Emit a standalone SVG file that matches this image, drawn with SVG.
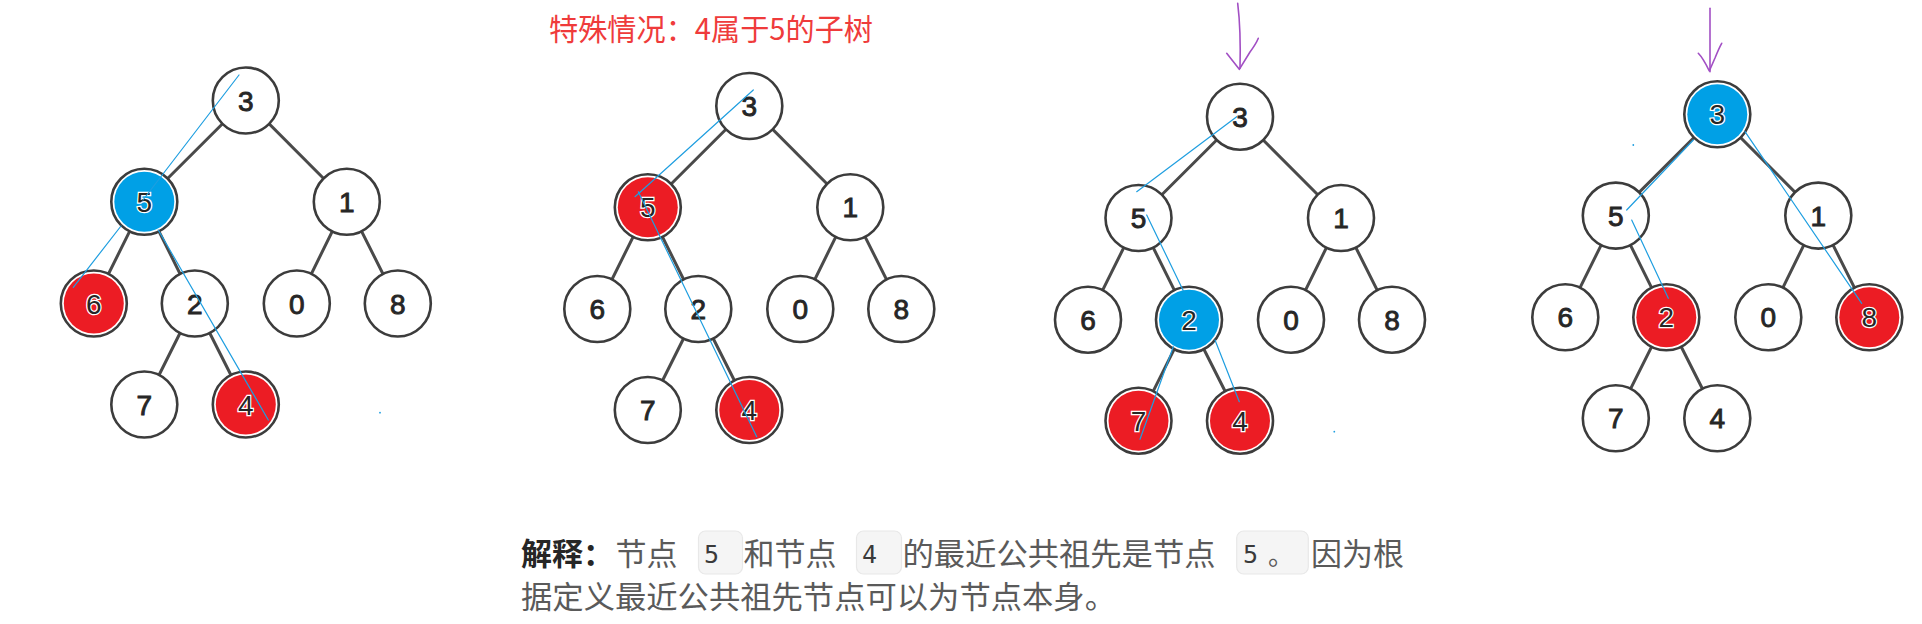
<svg xmlns="http://www.w3.org/2000/svg" width="1922" height="624" viewBox="0 0 1922 624">
<style>
.edge{stroke:#4a4a4a;stroke-width:3;stroke-linecap:round}
.nc{fill:#fff;stroke:#3c3c3c;stroke-width:2.6}
.red{fill:#ec1c24}
.blue{fill:#00a0e6}
.lbl{font-family:"Liberation Sans",Arial,sans-serif;font-size:28px;fill:#262626;stroke:#262626;stroke-width:0.9;text-anchor:middle}
.hl .lbl{stroke:#fff;stroke-width:2.5;paint-order:stroke}
.anno{stroke:#1e9ee0;stroke-width:1.2;fill:none;stroke-linecap:round}
.arrow{stroke:#a24fc4;stroke-width:1.6;fill:none;stroke-linecap:round;stroke-linejoin:round}
.title{font-family:"Noto Sans CJK SC","Noto Sans",sans-serif;font-size:30px;fill:#ef3b3b}
.txt{font-family:"Noto Sans CJK SC","Noto Sans",sans-serif;font-size:31px;fill:#5a5a5a}
.bold{font-weight:bold;fill:#262626}
.code{fill:#f5f5f5;stroke:#e8e8e8;stroke-width:1.2}
.ctxt{font-family:"DejaVu Sans Mono","Liberation Mono",monospace;font-size:25px;fill:#3a3a3a}
</style>
<defs>
<g id="edges">
<line class="edge" x1="0" y1="0" x2="-101.5" y2="101.3"/>
<line class="edge" x1="0" y1="0" x2="101" y2="101.3"/>
<line class="edge" x1="-101.5" y1="101.3" x2="-152" y2="203"/>
<line class="edge" x1="-101.5" y1="101.3" x2="-51" y2="203"/>
<line class="edge" x1="101" y1="101.3" x2="51" y2="203"/>
<line class="edge" x1="101" y1="101.3" x2="152" y2="203"/>
<line class="edge" x1="-51" y1="203" x2="-101.5" y2="304"/>
<line class="edge" x1="-51" y1="203" x2="0" y2="304"/>
</g>
</defs>
<rect width="1922" height="624" fill="#fff"/>

<text class="title" x="549" y="39.5" textLength="324" lengthAdjust="spacingAndGlyphs">特殊情况：4属于5的子树</text>

<g id="connectors">
<use href="#edges" transform="translate(245.8,100.5)"/>
<use href="#edges" transform="translate(749.3,106)"/>
<use href="#edges" transform="translate(1240,116.7)"/>
<use href="#edges" transform="translate(1717.3,114.3)"/>
</g>

<g id="tree1" transform="translate(245.8,100.5)">
<g id="t1-n3" transform="translate(0,0)"><circle class="nc" r="33"/><text class="lbl" y="10">3</text></g>
<g id="t1-n5" class="hl" transform="translate(-101.5,101.3)"><circle class="nc" r="33"/><circle class="blue" r="30"/><text class="lbl" y="10">5</text></g>
<g id="t1-n1" transform="translate(101,101.3)"><circle class="nc" r="33"/><text class="lbl" y="10">1</text></g>
<g id="t1-n6" class="hl" transform="translate(-152,203)"><circle class="nc" r="33"/><circle class="red" r="30"/><text class="lbl" y="10">6</text></g>
<g id="t1-n2" transform="translate(-51,203)"><circle class="nc" r="33"/><text class="lbl" y="10">2</text></g>
<g id="t1-n0" transform="translate(51,203)"><circle class="nc" r="33"/><text class="lbl" y="10">0</text></g>
<g id="t1-n8" transform="translate(152,203)"><circle class="nc" r="33"/><text class="lbl" y="10">8</text></g>
<g id="t1-n7" transform="translate(-101.5,304)"><circle class="nc" r="33"/><text class="lbl" y="10">7</text></g>
<g id="t1-n4" class="hl" transform="translate(0,304)"><circle class="nc" r="33"/><circle class="red" r="30"/><text class="lbl" y="10">4</text></g>
</g>

<g id="tree2" transform="translate(749.3,106)">
<g id="t2-n3" transform="translate(0,0)"><circle class="nc" r="33"/><text class="lbl" y="10">3</text></g>
<g id="t2-n5" class="hl" transform="translate(-101.5,101.3)"><circle class="nc" r="33"/><circle class="red" r="30"/><text class="lbl" y="10">5</text></g>
<g id="t2-n1" transform="translate(101,101.3)"><circle class="nc" r="33"/><text class="lbl" y="10">1</text></g>
<g id="t2-n6" transform="translate(-152,203)"><circle class="nc" r="33"/><text class="lbl" y="10">6</text></g>
<g id="t2-n2" transform="translate(-51,203)"><circle class="nc" r="33"/><text class="lbl" y="10">2</text></g>
<g id="t2-n0" transform="translate(51,203)"><circle class="nc" r="33"/><text class="lbl" y="10">0</text></g>
<g id="t2-n8" transform="translate(152,203)"><circle class="nc" r="33"/><text class="lbl" y="10">8</text></g>
<g id="t2-n7" transform="translate(-101.5,304)"><circle class="nc" r="33"/><text class="lbl" y="10">7</text></g>
<g id="t2-n4" class="hl" transform="translate(0,304)"><circle class="nc" r="33"/><circle class="red" r="30"/><text class="lbl" y="10">4</text></g>
</g>

<g id="tree3" transform="translate(1240,116.7)">
<g id="t3-n3" transform="translate(0,0)"><circle class="nc" r="33"/><text class="lbl" y="10">3</text></g>
<g id="t3-n5" transform="translate(-101.5,101.3)"><circle class="nc" r="33"/><text class="lbl" y="10">5</text></g>
<g id="t3-n1" transform="translate(101,101.3)"><circle class="nc" r="33"/><text class="lbl" y="10">1</text></g>
<g id="t3-n6" transform="translate(-152,203)"><circle class="nc" r="33"/><text class="lbl" y="10">6</text></g>
<g id="t3-n2" class="hl" transform="translate(-51,203)"><circle class="nc" r="33"/><circle class="blue" r="30"/><text class="lbl" y="10">2</text></g>
<g id="t3-n0" transform="translate(51,203)"><circle class="nc" r="33"/><text class="lbl" y="10">0</text></g>
<g id="t3-n8" transform="translate(152,203)"><circle class="nc" r="33"/><text class="lbl" y="10">8</text></g>
<g id="t3-n7" class="hl" transform="translate(-101.5,304)"><circle class="nc" r="33"/><circle class="red" r="30"/><text class="lbl" y="10">7</text></g>
<g id="t3-n4" class="hl" transform="translate(0,304)"><circle class="nc" r="33"/><circle class="red" r="30"/><text class="lbl" y="10">4</text></g>
</g>

<g id="tree4" transform="translate(1717.3,114.3)">
<g id="t4-n3" class="hl" transform="translate(0,0)"><circle class="nc" r="33"/><circle class="blue" r="30"/><text class="lbl" y="10">3</text></g>
<g id="t4-n5" transform="translate(-101.5,101.3)"><circle class="nc" r="33"/><text class="lbl" y="10">5</text></g>
<g id="t4-n1" transform="translate(101,101.3)"><circle class="nc" r="33"/><text class="lbl" y="10">1</text></g>
<g id="t4-n6" transform="translate(-152,203)"><circle class="nc" r="33"/><text class="lbl" y="10">6</text></g>
<g id="t4-n2" class="hl" transform="translate(-51,203)"><circle class="nc" r="33"/><circle class="red" r="30"/><text class="lbl" y="10">2</text></g>
<g id="t4-n0" transform="translate(51,203)"><circle class="nc" r="33"/><text class="lbl" y="10">0</text></g>
<g id="t4-n8" class="hl" transform="translate(152,203)"><circle class="nc" r="33"/><circle class="red" r="30"/><text class="lbl" y="10">8</text></g>
<g id="t4-n7" transform="translate(-101.5,304)"><circle class="nc" r="33"/><text class="lbl" y="10">7</text></g>
<g id="t4-n4" transform="translate(0,304)"><circle class="nc" r="33"/><text class="lbl" y="10">4</text></g>
</g>

<g id="annotations">
<line class="anno" x1="239" y1="75" x2="143" y2="200"/>
<line class="anno" x1="121" y1="226" x2="73.3" y2="287.3"/>
<line class="anno" x1="158.3" y1="230" x2="268.3" y2="420"/>
<circle cx="380" cy="412.7" r="0.9" fill="#1e9ee0"/>
<line class="anno" x1="753.3" y1="90" x2="635" y2="196.7"/>
<line class="anno" x1="638.3" y1="191.7" x2="756.7" y2="436.7"/>
<line class="anno" x1="1236.7" y1="116.7" x2="1136.7" y2="191.7"/>
<line class="anno" x1="1146.7" y1="215" x2="1183.3" y2="290.7"/>
<line class="anno" x1="1173.3" y1="346.7" x2="1140" y2="439.3"/>
<line class="anno" x1="1215" y1="340" x2="1239.3" y2="401.7"/>
<circle cx="1334.3" cy="431.7" r="0.9" fill="#1e9ee0"/>
<line class="anno" x1="1693.3" y1="140" x2="1626.7" y2="210"/>
<line class="anno" x1="1631.7" y1="220" x2="1668.3" y2="298.3"/>
<line class="anno" x1="1745" y1="131.7" x2="1861.7" y2="303.3"/>
<circle cx="1633.3" cy="145" r="0.9" fill="#1e9ee0"/>
<path class="arrow" d="M1237.7,3.3 Q1241,30 1240,68.3"/>
<path class="arrow" d="M1226.7,53.3 L1239.3,69.3 L1250,52 Q1256,44 1258.3,38.3"/>
<path class="arrow" d="M1710,8.3 L1710,71.7"/>
<path class="arrow" d="M1698.3,53.3 Q1703,58 1709.3,71 L1715,58 Q1719,48 1721.7,43.3"/>
</g>

<g id="explanation">
<rect class="code" x="698.5" y="531" width="44" height="43" rx="7"/>
<rect class="code" x="856.5" y="531" width="45" height="43" rx="7"/>
<rect class="code" x="1236.7" y="531" width="71.6" height="43" rx="7"/>
<text class="txt bold" x="521" y="564.5">解释：</text>
<text class="txt" x="615.5" y="564.5">节点</text>
<text class="ctxt" x="704" y="563.3">5</text>
<text class="txt" x="743.5" y="564.5">和节点</text>
<text class="ctxt" x="862" y="563.3">4</text>
<text class="txt" x="902.5" y="564.5" textLength="313" lengthAdjust="spacingAndGlyphs">的最近公共祖先是节点</text>
<text class="ctxt" x="1243" y="563.3">5</text>
<text class="txt" x="1268" y="564.5" style="font-size:26px">。</text>
<text class="txt" x="1311" y="564.5">因为根</text>
<text class="txt" x="521" y="607.8" textLength="595" lengthAdjust="spacingAndGlyphs">据定义最近公共祖先节点可以为节点本身。</text>
</g>
</svg>
